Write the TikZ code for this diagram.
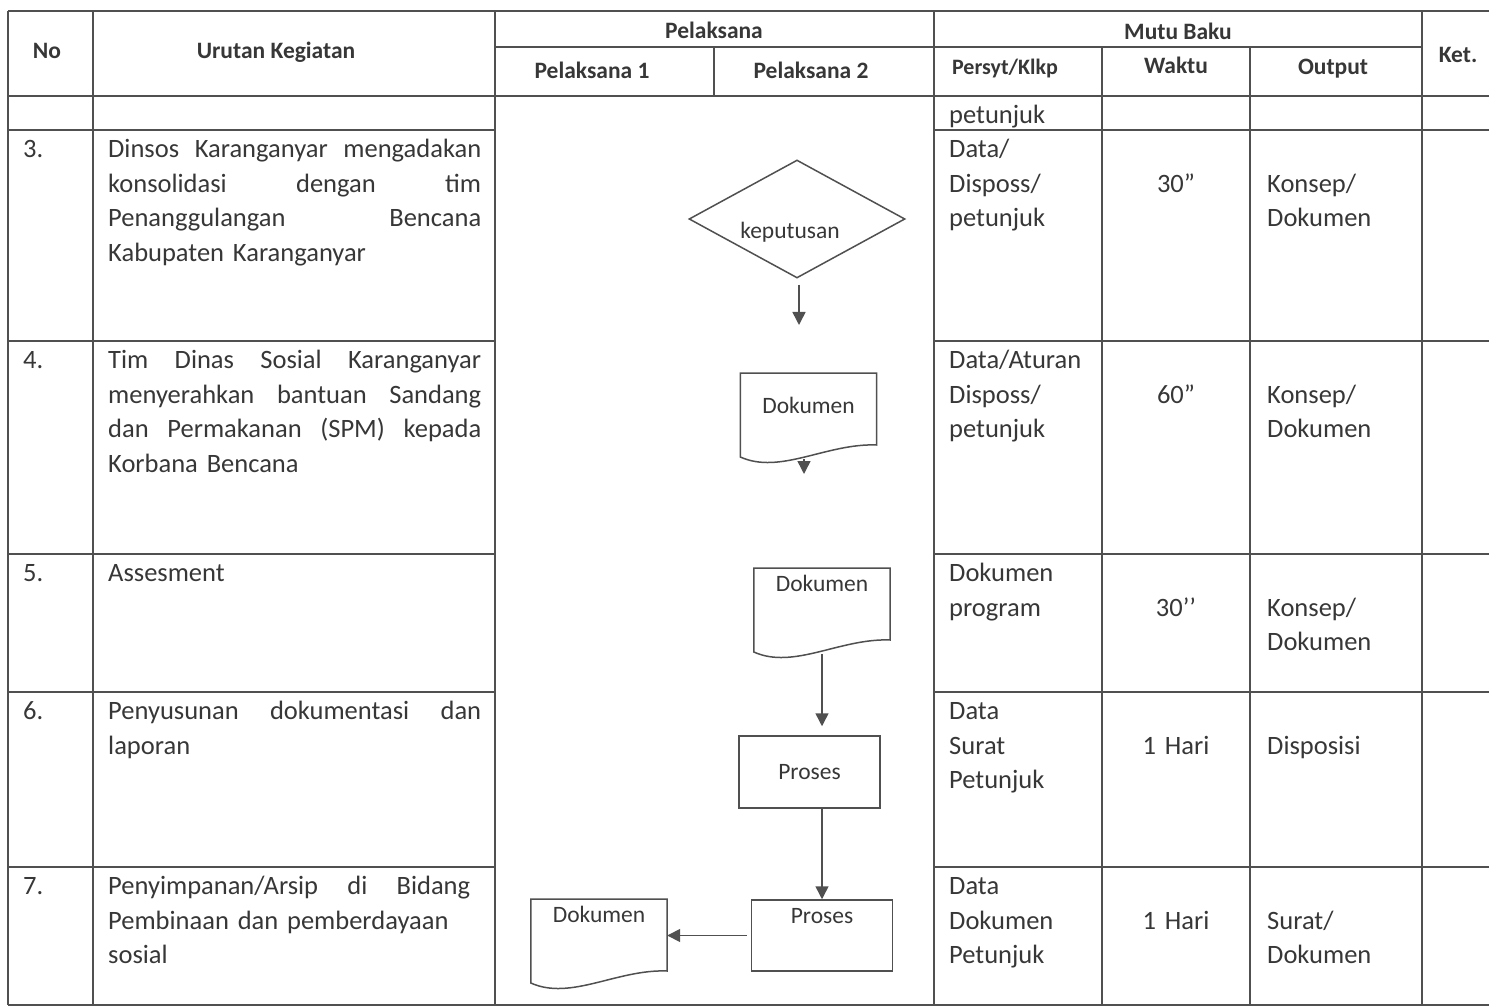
\documentclass[tikz,border=0pt]{standalone}
\usepackage{fontspec}
\setmainfont{Carlito}
\usepackage{tikz}
\usetikzlibrary{shapes.geometric,arrows.meta}
\definecolor{garisabu}{RGB}{80,80,80}
\definecolor{teksabu}{RGB}{55,55,55}
\newcommand{\isi}{\fontsize{26.5}{34.7}\selectfont}
\newcommand{\judul}{\fontsize{23.5}{28}\selectfont\bfseries}
\newcommand{\bagan}{\fontsize{23.5}{28}\selectfont}
% bentuk dokumen: atas lurus, bawah bergelombang
\newcommand{\gambardok}[1]{%
  \draw[garisbagan] (#1.north west) -- (#1.north east) -- ([yshift=-72pt]#1.north east)
    .. controls ([xshift=-50pt,yshift=-70pt]#1.north east) and ([xshift=40pt,yshift=-102pt]#1.north west)
    .. ([yshift=-84pt]#1.north west) -- cycle;}

\begin{document}
\begin{tikzpicture}[x=1pt, y=-1pt,
    garis/.style={draw=garisabu, line width=1.5pt},
    garisbagan/.style={draw=garisabu, line width=1.5pt},
    judulsel/.style={anchor=base, font=\judul, text=teksabu, inner sep=0pt},
    sel/.style={anchor=north west, align=left, font=\isi, text=teksabu, inner sep=0pt,
                execute at begin node=\strut},
    urutan/.style={sel, text width=373pt},
    syarat/.style={sel, text width=150pt},
    waktu/.style={sel, anchor=north, align=center, text width=140pt},
    keputusan/.style={diamond, garisbagan, aspect=1.8, minimum width=216pt, minimum height=118pt,
                      inner sep=0pt, text height=41pt, text depth=2pt, font=\bagan, text=teksabu},
    proses/.style={rectangle, garisbagan, minimum width=141pt, minimum height=72pt,
                   font=\bagan, text=teksabu},
    dokumen/.style={anchor=north, minimum width=136pt, inner xsep=0pt, inner ysep=7.5pt,
                    text height=16pt, text depth=5pt, font=\bagan, text=teksabu},
    panah/.style={-{Triangle[length=13pt,width=13pt]}, garisbagan}
]
    \useasboundingbox (0,0) rectangle (1489,1008);

    % Garis tabel
    \draw[garis] (8,11) -- (1489,11);
    \draw[garis] (495,47) -- (1422,47);
    \draw[garis] (8,96) -- (1489,96);
    \draw[garis] (8,130) -- (495,130) (934,130) -- (1489,130);
    \draw[garis] (8,341) -- (495,341) (934,341) -- (1489,341);
    \draw[garis] (8,554) -- (495,554) (934,554) -- (1489,554);
    \draw[garis] (8,692) -- (495,692) (934,692) -- (1489,692);
    \draw[garis] (8,867) -- (495,867) (934,867) -- (1489,867);
    \draw[garis] (8,1005) -- (1489,1005);
    \draw[garis] (8,11) -- (8,1005);
    \draw[garis] (93,11) -- (93,1005);
    \draw[garis] (495,11) -- (495,1005);
    \draw[garis] (714,47) -- (714,96);
    \draw[garis] (934,11) -- (934,1005);
    \draw[garis] (1102,47) -- (1102,1005);
    \draw[garis] (1250,47) -- (1250,1005);
    \draw[garis] (1422,11) -- (1422,1005);

    % Kepala tabel
    \node[judulsel] (no) at (47,58.5) {No};
    \node[judulsel] (urutan) at (276,58.5) {Urutan Kegiatan};
    \node[judulsel] (pelaksana) at (714,38.5) {Pelaksana};
    \node[judulsel] (pel1) at (592,78.5) {Pelaksana 1};
    \node[judulsel] (pel2) at (811,78.5) {Pelaksana 2};
    \node[judulsel] (mutu) at (1178,39.5) {Mutu Baku};
    \node[judulsel, font=\judul\fontsize{22}{26}\selectfont] (persyt) at (1005,74.5) {Persyt/Klkp};
    \node[judulsel] (waktu) at (1176,74) {Waktu};
    \node[judulsel] (output) at (1333,75) {Output};
    \node[judulsel] (ket) at (1458,63) {Ket.};

    % Baris lanjutan
    \node[syarat] (syt2) at (949,99) {petunjuk};

    % Baris 3
    \node[sel] (no3) at (23,133) {3.};
    \node[urutan] (keg3) at (108,133) {Dinsos\hfill Karanganyar\hfill mengadakan\\
        konsolidasi\hfill dengan\hfill tim\\ Penanggulangan\hfill Bencana\\ Kabupaten Karanganyar};
    \node[syarat] (syt3) at (949,133) {Data/\\Disposs/\\petunjuk};
    \node[waktu] (wkt3) at (1176,167.7) {30”};
    \node[syarat] (out3) at (1267,167.7) {Konsep/\\Dokumen};

    % Baris 4
    \node[sel] (no4) at (23,344) {4.};
    \node[urutan] (keg4) at (108,344) {Tim\hfill Dinas\hfill Sosial\hfill Karanganyar\\
        menyerahkan\hfill bantuan\hfill Sandang\\ dan\hfill Permakanan\hfill (SPM)\hfill kepada\\ Korbana Bencana};
    \node[syarat] (syt4) at (949,344) {Data/Aturan\\Disposs/\\petunjuk};
    \node[waktu] (wkt4) at (1176,378.7) {60”};
    \node[syarat] (out4) at (1267,378.7) {Konsep/\\Dokumen};

    % Baris 5
    \node[sel] (no5) at (23,557) {5.};
    \node[urutan] (keg5) at (108,557) {Assesment};
    \node[syarat] (syt5) at (949,557) {Dokumen\\program};
    \node[waktu] (wkt5) at (1176,591.7) {30’’};
    \node[syarat] (out5) at (1267,591.7) {Konsep/\\Dokumen};

    % Baris 6
    \node[sel] (no6) at (23,695) {6.};
    \node[urutan] (keg6) at (108,695) {Penyusunan\hfill dokumentasi\hfill dan\\ laporan};
    \node[syarat] (syt6) at (949,695) {Data\\Surat\\Petunjuk};
    \node[waktu] (wkt6) at (1176,729.7) {1 Hari};
    \node[syarat] (out6) at (1267,729.7) {Disposisi};

    % Baris 7
    \node[sel] (no7) at (23,870) {7.};
    \node[urutan] (keg7) at (108,870) {Penyimpanan/Arsip\hfill di\hfill Bidang\kern11pt\\
        Pembinaan dan pemberdayaan\\ sosial};
    \node[syarat] (syt7) at (949,870) {Data\\Dokumen\\Petunjuk};
    \node[waktu] (wkt7) at (1176,904.7) {1 Hari};
    \node[syarat] (out7) at (1267,904.7) {Surat/\\Dokumen};

    % Bagan alir
    \node[keputusan] (kep) at (797,219) {keputusan\hspace*{14pt}};
    \coordinate (t1) at (799,325);
    \draw[panah] ([xshift=2pt,yshift=-6pt]kep.south) -- (t1);

    \node[dokumen, inner ysep=24.5pt] (dok1) at (808.5,373) {Dokumen};
    \gambardok{dok1}
    \coordinate (t2) at (804,474);
    \draw[panah] ([xshift=-4.5pt,yshift=-86pt]dok1.north) -- (t2);

    \node[dokumen] (dok2) at (822,568) {Dokumen};
    \gambardok{dok2}
    \node[proses] (pros1) at (809.5,772) {Proses};
    \node[proses, minimum height=71pt, inner ysep=0pt, text height=16pt, text depth=40pt] (pros2) at (822,935.5) {Proses};
    \node[dokumen] (dok3) at (599,899) {Dokumen};
    \gambardok{dok3}

    \draw[panah, shorten >=9pt] ([yshift=-86pt]dok2.north) -- (dok2.north |- pros1.north);
    \draw[panah] (pros1.south -| pros2.north) -- (pros2.north);
    \draw[panah] ([xshift=-4pt]pros2.west) -- (pros2.west -| dok3.east);
\end{tikzpicture}
\end{document}
